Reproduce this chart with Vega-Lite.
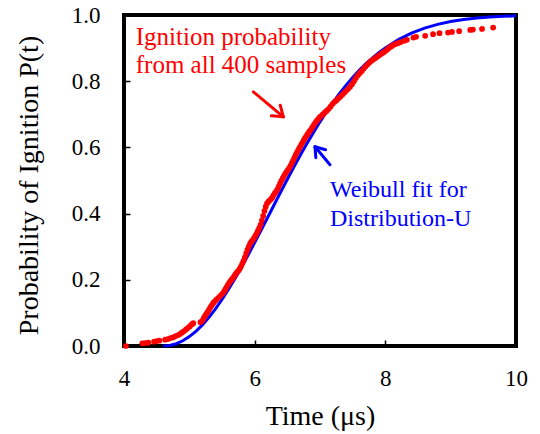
{
  "$schema": "https://vega.github.io/schema/vega-lite/v6.json",
  "width": 392,
  "height": 331,
  "autosize": {"type": "none"},
  "padding": {"left": 124, "top": 15, "right": 24, "bottom": 88},
  "background": "white",
  "config": {
    "view": {"stroke": "black", "strokeWidth": 4},
    "font": "Liberation Serif"
  },
  "datasets": {
    "weibull": [
      {"t": 4.6, "p": 0}, {"t": 4.7, "p": 0.0017}, {"t": 4.8, "p": 0.0069}, {"t": 4.9, "p": 0.0158},
      {"t": 5.0, "p": 0.0283}, {"t": 5.1, "p": 0.0444}, {"t": 5.2, "p": 0.0639}, {"t": 5.3, "p": 0.0865},
      {"t": 5.4, "p": 0.1122}, {"t": 5.5, "p": 0.1405}, {"t": 5.6, "p": 0.1714}, {"t": 5.7, "p": 0.2043},
      {"t": 5.8, "p": 0.239}, {"t": 5.9, "p": 0.2752}, {"t": 6.0, "p": 0.3126}, {"t": 6.1, "p": 0.3505},
      {"t": 6.2, "p": 0.389}, {"t": 6.3, "p": 0.4275}, {"t": 6.4, "p": 0.4659}, {"t": 6.5, "p": 0.5038},
      {"t": 6.6, "p": 0.5409}, {"t": 6.7, "p": 0.5769}, {"t": 6.8, "p": 0.6119}, {"t": 6.9, "p": 0.6453},
      {"t": 7.0, "p": 0.6773}, {"t": 7.1, "p": 0.7077}, {"t": 7.2, "p": 0.7362}, {"t": 7.3, "p": 0.7631},
      {"t": 7.4, "p": 0.7881}, {"t": 7.5, "p": 0.8112}, {"t": 7.6, "p": 0.8326}, {"t": 7.7, "p": 0.8522},
      {"t": 7.8, "p": 0.87}, {"t": 7.9, "p": 0.8862}, {"t": 8.0, "p": 0.9007}, {"t": 8.2, "p": 0.9255},
      {"t": 8.4, "p": 0.9451}, {"t": 8.6, "p": 0.9602}, {"t": 8.8, "p": 0.9716}, {"t": 9.0, "p": 0.9801},
      {"t": 9.2, "p": 0.9863}, {"t": 9.4, "p": 0.9908}, {"t": 9.6, "p": 0.9939}, {"t": 9.8, "p": 0.996},
      {"t": 10.0, "p": 0.9974}
    ],
    "samples": [
      {"t": 4.03, "p": 0.0}, {"t": 4.28, "p": 0.008}, {"t": 4.32, "p": 0.009}, {"t": 4.37, "p": 0.01},
      {"t": 4.46, "p": 0.013}, {"t": 4.5, "p": 0.015}, {"t": 4.54, "p": 0.016}, {"t": 4.63, "p": 0.019},
      {"t": 4.67, "p": 0.021}, {"t": 4.71, "p": 0.024}, {"t": 4.75, "p": 0.026}, {"t": 4.79, "p": 0.03},
      {"t": 4.83, "p": 0.033}, {"t": 4.86, "p": 0.037}, {"t": 4.89, "p": 0.041}, {"t": 4.92, "p": 0.045},
      {"t": 4.95, "p": 0.05}, {"t": 4.98, "p": 0.055}, {"t": 5.01, "p": 0.06}, {"t": 5.04, "p": 0.066},
      {"t": 5.06, "p": 0.069}, {"t": 5.17, "p": 0.072}, {"t": 5.2, "p": 0.077}, {"t": 5.22, "p": 0.084},
      {"t": 5.24, "p": 0.091}, {"t": 5.26, "p": 0.097}, {"t": 5.28, "p": 0.103}, {"t": 5.3, "p": 0.109},
      {"t": 5.32, "p": 0.116}, {"t": 5.34, "p": 0.122}, {"t": 5.36, "p": 0.128}, {"t": 5.38, "p": 0.133},
      {"t": 5.41, "p": 0.139}, {"t": 5.44, "p": 0.145}, {"t": 5.47, "p": 0.151}, {"t": 5.5, "p": 0.157},
      {"t": 5.53, "p": 0.164}, {"t": 5.55, "p": 0.171}, {"t": 5.57, "p": 0.178}, {"t": 5.59, "p": 0.185},
      {"t": 5.61, "p": 0.191}, {"t": 5.63, "p": 0.196}, {"t": 5.65, "p": 0.201}, {"t": 5.67, "p": 0.206},
      {"t": 5.69, "p": 0.212}, {"t": 5.71, "p": 0.218}, {"t": 5.73, "p": 0.223}, {"t": 5.75, "p": 0.227},
      {"t": 5.77, "p": 0.233}, {"t": 5.79, "p": 0.24}, {"t": 5.81, "p": 0.249}, {"t": 5.83, "p": 0.257},
      {"t": 5.85, "p": 0.268}, {"t": 5.87, "p": 0.28}, {"t": 5.89, "p": 0.291}, {"t": 5.91, "p": 0.3},
      {"t": 5.93, "p": 0.309}, {"t": 5.95, "p": 0.315}, {"t": 5.97, "p": 0.32}, {"t": 5.99, "p": 0.326},
      {"t": 6.01, "p": 0.333}, {"t": 6.03, "p": 0.34}, {"t": 6.05, "p": 0.348}, {"t": 6.07, "p": 0.356},
      {"t": 6.09, "p": 0.366}, {"t": 6.11, "p": 0.379}, {"t": 6.13, "p": 0.393}, {"t": 6.15, "p": 0.408},
      {"t": 6.17, "p": 0.421}, {"t": 6.19, "p": 0.431}, {"t": 6.21, "p": 0.436}, {"t": 6.23, "p": 0.44},
      {"t": 6.25, "p": 0.444}, {"t": 6.27, "p": 0.449}, {"t": 6.29, "p": 0.456}, {"t": 6.31, "p": 0.462},
      {"t": 6.33, "p": 0.467}, {"t": 6.35, "p": 0.474}, {"t": 6.37, "p": 0.482}, {"t": 6.39, "p": 0.491},
      {"t": 6.41, "p": 0.5}, {"t": 6.43, "p": 0.507}, {"t": 6.45, "p": 0.514}, {"t": 6.47, "p": 0.521},
      {"t": 6.49, "p": 0.527}, {"t": 6.51, "p": 0.532}, {"t": 6.53, "p": 0.538}, {"t": 6.55, "p": 0.545},
      {"t": 6.57, "p": 0.553}, {"t": 6.59, "p": 0.561}, {"t": 6.61, "p": 0.57}, {"t": 6.63, "p": 0.578},
      {"t": 6.65, "p": 0.586}, {"t": 6.67, "p": 0.593}, {"t": 6.69, "p": 0.6}, {"t": 6.71, "p": 0.607},
      {"t": 6.73, "p": 0.614}, {"t": 6.75, "p": 0.621}, {"t": 6.77, "p": 0.628}, {"t": 6.79, "p": 0.634},
      {"t": 6.81, "p": 0.64}, {"t": 6.83, "p": 0.646}, {"t": 6.85, "p": 0.651}, {"t": 6.87, "p": 0.657},
      {"t": 6.89, "p": 0.663}, {"t": 6.91, "p": 0.669}, {"t": 6.93, "p": 0.675}, {"t": 6.95, "p": 0.68},
      {"t": 6.97, "p": 0.685}, {"t": 6.99, "p": 0.69}, {"t": 7.01, "p": 0.694}, {"t": 7.04, "p": 0.699},
      {"t": 7.07, "p": 0.705}, {"t": 7.1, "p": 0.71}, {"t": 7.13, "p": 0.716}, {"t": 7.16, "p": 0.723},
      {"t": 7.19, "p": 0.731}, {"t": 7.22, "p": 0.737}, {"t": 7.25, "p": 0.742}, {"t": 7.28, "p": 0.748},
      {"t": 7.31, "p": 0.753}, {"t": 7.34, "p": 0.759}, {"t": 7.37, "p": 0.765}, {"t": 7.4, "p": 0.771},
      {"t": 7.43, "p": 0.777}, {"t": 7.46, "p": 0.783}, {"t": 7.49, "p": 0.791}, {"t": 7.52, "p": 0.8},
      {"t": 7.55, "p": 0.81}, {"t": 7.58, "p": 0.818}, {"t": 7.61, "p": 0.825}, {"t": 7.64, "p": 0.831},
      {"t": 7.67, "p": 0.838}, {"t": 7.7, "p": 0.845}, {"t": 7.73, "p": 0.851}, {"t": 7.76, "p": 0.857},
      {"t": 7.79, "p": 0.862}, {"t": 7.82, "p": 0.866}, {"t": 7.85, "p": 0.87}, {"t": 7.88, "p": 0.875},
      {"t": 7.91, "p": 0.879}, {"t": 7.94, "p": 0.883}, {"t": 7.97, "p": 0.887}, {"t": 8.0, "p": 0.891},
      {"t": 8.03, "p": 0.896}, {"t": 8.06, "p": 0.901}, {"t": 8.09, "p": 0.905}, {"t": 8.12, "p": 0.909},
      {"t": 8.15, "p": 0.912}, {"t": 8.19, "p": 0.915}, {"t": 8.23, "p": 0.918}, {"t": 8.29, "p": 0.922},
      {"t": 8.33, "p": 0.925}, {"t": 8.43, "p": 0.932}, {"t": 8.47, "p": 0.934}, {"t": 8.61, "p": 0.937},
      {"t": 8.73, "p": 0.942}, {"t": 8.83, "p": 0.945}, {"t": 8.96, "p": 0.947}, {"t": 9.02, "p": 0.949},
      {"t": 9.13, "p": 0.951}, {"t": 9.3, "p": 0.955}, {"t": 9.34, "p": 0.956}, {"t": 9.48, "p": 0.958},
      {"t": 9.65, "p": 0.962}
    ],
    "redArrow": [
      {"t": 5.98, "p": 0.768, "t2": 6.439, "p2": 0.6925},
      {"t": 6.439, "p": 0.6925, "t2": 6.391, "p2": 0.7275},
      {"t": 6.439, "p": 0.6925, "t2": 6.255, "p2": 0.6955}
    ],
    "blueArrow": [
      {"t": 7.153, "p": 0.5476, "t2": 6.924, "p2": 0.6018},
      {"t": 6.924, "p": 0.6018, "t2": 6.936, "p2": 0.5688},
      {"t": 6.924, "p": 0.6018, "t2": 7.086, "p2": 0.5927}
    ],
    "redText": [
      {"t": 4.18, "p": 0.909, "label": "Ignition probability"},
      {"t": 4.18, "p": 0.824, "label": "from all 400 samples"}
    ],
    "blueText": [
      {"t": 7.153, "p": 0.449, "label": "Weibull fit for"},
      {"t": 7.153, "p": 0.362, "label": "Distribution-U"}
    ]
  },
  "layer": [
    {
      "data": {"name": "weibull"},
      "mark": {"type": "line", "color": "#0000ff", "strokeWidth": 3, "clip": false},
      "encoding": {
        "x": {
          "field": "t", "type": "quantitative",
          "scale": {"domain": [4, 10], "nice": false, "zero": false},
          "axis": {
            "values": [4, 6, 8, 10], "format": "d", "grid": false, "domain": false,
            "labelFont": "Liberation Serif", "labelFontSize": 23, "labelColor": "black",
            "labelFlush": false, "labelOverlap": false, "labelPadding": 27,
            "tickSize": -6, "tickColor": "black", "tickWidth": 1.5,
            "title": "Time (μs)", "titleFont": "Liberation Serif", "titleFontSize": 28,
            "titleFontWeight": "normal", "titleColor": "black",
            "titleBaseline": "alphabetic", "titleY": 78
          }
        },
        "y": {
          "field": "p", "type": "quantitative",
          "scale": {"domain": [0, 1], "nice": false},
          "axis": {
            "values": [0, 0.2, 0.4, 0.6, 0.8, 1], "format": ".1f", "grid": false, "domain": false,
            "labelFont": "Liberation Serif", "labelFontSize": 23, "labelColor": "black",
            "labelFlush": false, "labelOverlap": false, "labelPadding": 30,
            "tickSize": -6, "tickColor": "black", "tickWidth": 1.5,
            "title": "Probability of Ignition P(t)", "titleFont": "Liberation Serif", "titleFontSize": 28,
            "titleFontWeight": "normal", "titleColor": "black",
            "titleBaseline": "alphabetic", "titleAlign": "center", "titleAngle": -90,
            "titleX": -87, "titleY": 170
          }
        }
      }
    },
    {
      "data": {"name": "samples"},
      "mark": {"type": "point", "filled": true, "color": "#ff0000", "opacity": 1, "size": 33, "clip": false},
      "encoding": {
        "x": {"field": "t", "type": "quantitative"},
        "y": {"field": "p", "type": "quantitative"}
      }
    },
    {
      "data": {"name": "redArrow"},
      "mark": {"type": "rule", "color": "#ff0000", "strokeWidth": 3, "strokeCap": "round"},
      "encoding": {
        "x": {"field": "t", "type": "quantitative"},
        "y": {"field": "p", "type": "quantitative"},
        "x2": {"field": "t2"},
        "y2": {"field": "p2"}
      }
    },
    {
      "data": {"name": "blueArrow"},
      "mark": {"type": "rule", "color": "#0000ff", "strokeWidth": 3, "strokeCap": "round"},
      "encoding": {
        "x": {"field": "t", "type": "quantitative"},
        "y": {"field": "p", "type": "quantitative"},
        "x2": {"field": "t2"},
        "y2": {"field": "p2"}
      }
    },
    {
      "data": {"name": "redText"},
      "mark": {"type": "text", "color": "#ff0000", "font": "Liberation Serif", "fontSize": 25, "align": "left", "baseline": "alphabetic"},
      "encoding": {
        "x": {"field": "t", "type": "quantitative"},
        "y": {"field": "p", "type": "quantitative"},
        "text": {"field": "label"}
      }
    },
    {
      "data": {"name": "blueText"},
      "mark": {"type": "text", "color": "#0000ff", "font": "Liberation Serif", "fontSize": 24, "align": "left", "baseline": "alphabetic"},
      "encoding": {
        "x": {"field": "t", "type": "quantitative"},
        "y": {"field": "p", "type": "quantitative"},
        "text": {"field": "label"}
      }
    }
  ]
}
